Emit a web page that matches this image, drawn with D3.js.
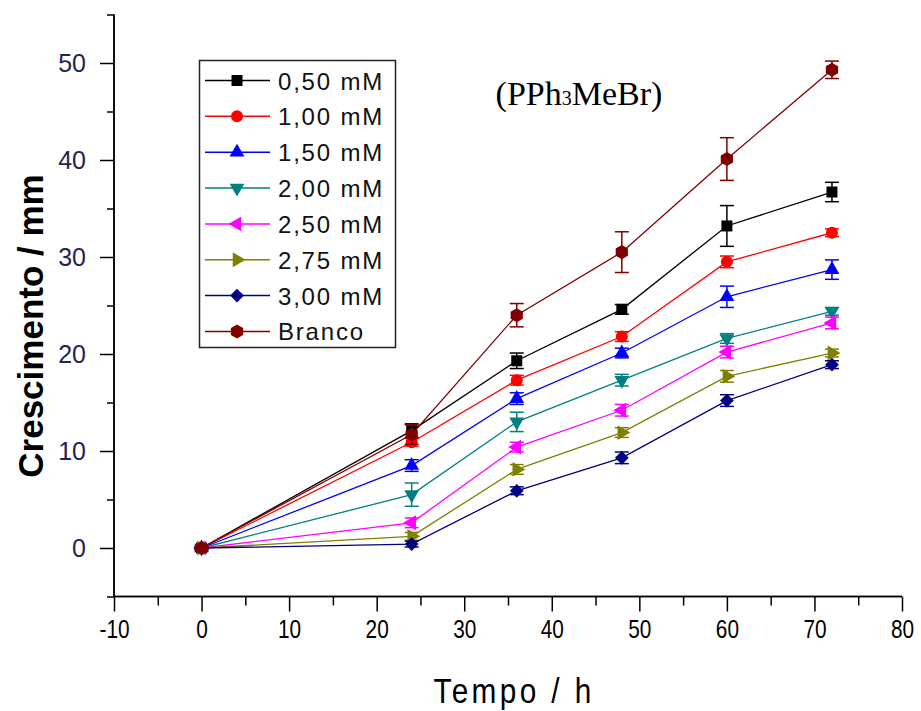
<!DOCTYPE html>
<html><head><meta charset="utf-8">
<script src="https://cdn.jsdelivr.net/npm/d3@7"></script>
<style>
html,body{margin:0;padding:0;background:#fff;}
svg{display:block;}
</style></head>
<body>
<svg id="chart" width="921" height="711"></svg>
<script>
const times = [0, 24, 36, 48, 60, 72];
const seriesNames = ["0,50 mM", "1,00 mM", "1,50 mM", "2,00 mM", "2,50 mM", "2,75 mM", "3,00 mM", "Branco"];
const s050 = [0, 12.1, 19.3, 24.6, 33.2, 36.7];
const s050err = [0.2, 0.7, 0.8, 0.5, 2.1, 1.0];
const s100 = [0, 10.9, 17.3, 21.8, 29.5, 32.5];
const s100err = [0.1, 0.4, 0.5, 0.5, 0.6, 0.4];
const s150 = [0, 8.5, 15.4, 20.1, 25.9, 28.7];
const s150err = [0.1, 0.6, 0.6, 0.5, 1.1, 1.0];
const s200 = [0, 5.5, 13.0, 17.3, 21.6, 24.4];
const s200err = [0.1, 1.2, 1.0, 0.6, 0.5, 0.4];
const s250 = [0, 2.6, 10.4, 14.2, 20.2, 23.2];
const s250err = [0.1, 0.5, 0.5, 0.6, 0.6, 0.6];
const s275 = [0, 1.2, 8.1, 11.9, 17.7, 20.1];
const s275err = [0.1, 0.4, 0.5, 0.5, 0.6, 0.4];
const s300 = [0, 0.4, 5.9, 9.3, 15.2, 18.9];
const s300err = [0.1, 0.3, 0.4, 0.6, 0.6, 0.4];
const branco = [0, 11.7, 24.0, 30.5, 40.1, 49.3];
const brancoErr = [0.1, 1.0, 1.2, 2.1, 2.2, 0.9];
const xTicks = [-10, 0, 10, 20, 30, 40, 50, 60, 70, 80];
const yTicks = [0, 10, 20, 30, 40, 50];
const colors = ["#000000", "#ff0000", "#0000ff", "#008080", "#ff00ff", "#808000", "#000080", "#800000"];

const hexagon = {
  draw(ctx, size) {
    const r = Math.sqrt(size / (1.5 * Math.sqrt(3)));
    for (let i = 0; i < 6; i++) {
      const a = Math.PI / 6 + i * Math.PI / 3;
      const px = r * Math.cos(a), py = r * Math.sin(a);
      if (i === 0) ctx.moveTo(px, py); else ctx.lineTo(px, py);
    }
    ctx.closePath();
  }
};
const markerDefs = [
  {type: d3.symbolSquare, size: 121, rot: 0},
  {type: d3.symbolCircle, size: 113, rot: 0},
  {type: d3.symbolTriangle, size: 95, rot: 0},
  {type: d3.symbolTriangle, size: 95, rot: 180},
  {type: d3.symbolTriangle, size: 95, rot: -90},
  {type: d3.symbolTriangle, size: 95, rot: 90},
  {type: d3.symbolSquare, size: 95, rot: 45},
  {type: hexagon, size: 130, rot: 0}
];

const values = [s050, s100, s150, s200, s250, s275, s300, branco];
const errors = [s050err, s100err, s150err, s200err, s250err, s275err, s300err, brancoErr];
const series = seriesNames.map((name, i) => ({
  name, color: colors[i], marker: markerDefs[i],
  points: times.map((t, j) => ({t, v: values[i][j], e: errors[i][j]}))
}));

const svg = d3.select("#chart");
const x = d3.scaleLinear().domain([-10, 80]).range([114, 902]);
const y = d3.scaleLinear().domain([-5, 55]).range([596.5, 14.5]);
const fmt = d => String(d);

// Axes
const axisColor = "#000";
const gx = svg.append("g").attr("transform", `translate(0,${y(-5)})`);
gx.call(d3.axisBottom(x).tickValues(d3.range(-5, 80, 10)).tickSize(9).tickFormat(""));
const gx2 = svg.append("g").attr("transform", `translate(0,${y(-5)})`);
gx2.call(d3.axisBottom(x).tickValues(xTicks).tickSize(15).tickPadding(8).tickFormat(fmt));
[gx, gx2].forEach(g => {
  g.select(".domain").attr("stroke", axisColor).attr("stroke-width", 1.5).attr("d", `M${x(-10)},0H${x(80)}`);
  g.selectAll("line").attr("stroke", axisColor).attr("stroke-width", 1.5);
});
gx2.selectAll("text").attr("fill", "#000")
  .attr("transform", "scale(0.8,1)")
  .style("font-family", "'Liberation Sans',Arial,sans-serif")
  .style("font-size", "26px");

const gy = svg.append("g").attr("transform", `translate(${x(-10)},0)`);
gy.call(d3.axisLeft(y).tickValues(d3.range(-5, 56, 10)).tickSize(7).tickFormat(""));
const gy2 = svg.append("g").attr("transform", `translate(${x(-10)},0)`);
gy2.call(d3.axisLeft(y).tickValues(yTicks).tickSize(14).tickPadding(14).tickFormat(fmt));
[gy, gy2].forEach(g => {
  g.select(".domain").attr("stroke", axisColor).attr("stroke-width", 1.5).attr("d", `M0,${y(-5)}V${y(55)}`);
  g.selectAll("line").attr("stroke", axisColor).attr("stroke-width", 1.5);
});
gy2.selectAll("text").attr("fill", "#24244e")
  .style("font-family", "'Liberation Sans',Arial,sans-serif")
  .style("font-size", "25px");

// Axis titles
svg.append("text")
  .attr("transform", `translate(43,326) rotate(-90)`)
  .attr("text-anchor", "middle")
  .style("font-family", "'Liberation Sans',Arial,sans-serif")
  .style("font-weight", "bold").style("font-size", "35px")
  .text("Crescimento / mm");
svg.append("text")
  .attr("transform", "translate(514,703) scale(0.85,1)")
  .attr("text-anchor", "middle")
  .style("font-family", "'Liberation Sans',Arial,sans-serif")
  .style("font-size", "35px").style("letter-spacing", "4px")
  .text("Tempo / h");

// Title
const title = svg.append("text")
  .attr("x", 579).attr("y", 105).attr("text-anchor", "middle")
  .style("font-family", "'Liberation Serif','Times New Roman',serif")
  .style("font-size", "34px");
title.append("tspan").text("(PPh");
title.append("tspan").style("font-size", "20px").text("3");
title.append("tspan").text("MeBr)");

// Series
const line = d3.line().x(d => x(d.t)).y(d => y(d.v));
const plot = svg.append("g");
series.forEach(s => {
  const g = plot.append("g");
  g.append("path").datum(s.points).attr("d", line)
    .attr("fill", "none").attr("stroke", s.color).attr("stroke-width", 1.3);
  const eb = g.selectAll(".eb").data(s.points).enter().append("g");
  eb.append("line").attr("x1", d => x(d.t)).attr("x2", d => x(d.t))
    .attr("y1", d => y(d.v - d.e)).attr("y2", d => y(d.v + d.e))
    .attr("stroke", s.color).attr("stroke-width", 1.5);
  [-1, 1].forEach(sg => {
    eb.append("line").attr("x1", d => x(d.t) - 7).attr("x2", d => x(d.t) + 7)
      .attr("y1", d => y(d.v + sg * d.e)).attr("y2", d => y(d.v + sg * d.e))
      .attr("stroke", s.color).attr("stroke-width", 1.5);
  });
  g.selectAll(".mk").data(s.points).enter().append("path")
    .attr("d", d3.symbol().type(s.marker.type).size(s.marker.size))
    .attr("transform", d => `translate(${x(d.t)},${y(d.v)}) rotate(${s.marker.rot})`)
    .attr("fill", s.color);
});

// Legend
const legend = svg.append("g");
legend.append("rect").attr("x", 199.5).attr("y", 60.5).attr("width", 196).attr("height", 287)
  .attr("fill", "#fff").attr("stroke", "#222").attr("stroke-width", 1.5);
series.forEach((s, i) => {
  const cy = 80.5 + i * 35.85;
  const row = legend.append("g");
  row.append("line").attr("x1", 205).attr("x2", 270).attr("y1", cy).attr("y2", cy)
    .attr("stroke", s.color).attr("stroke-width", 1.5);
  row.append("path").attr("d", d3.symbol().type(s.marker.type).size(s.marker.size))
    .attr("transform", `translate(237,${cy}) rotate(${s.marker.rot})`).attr("fill", s.color);
  row.append("text").attr("x", 278).attr("y", cy + 9)
    .style("font-family", "'Liberation Sans',Arial,sans-serif")
    .style("font-size", "24px").style("letter-spacing", "1.8px")
    .attr("fill", "#111")
    .text(s.name);
});
</script>
</body></html>
